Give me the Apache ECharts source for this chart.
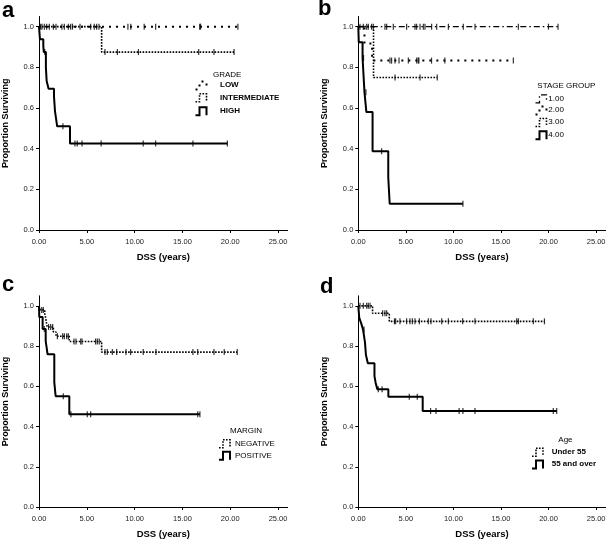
<!DOCTYPE html>
<html><head><meta charset="utf-8">
<script src="https://cdn.jsdelivr.net/npm/echarts@6/dist/echarts.min.js"></script>
<style>html,body{margin:0;padding:0;background:#fff}#c{width:609px;height:540px}</style>
</head><body><div id="c"></div>
<script>
// ---------- data (years, proportion surviving) ----------
var xTicks = [0, 5, 10, 15, 20, 25];
var yTicks = [0, 0.2, 0.4, 0.6, 0.8, 1.0];

// Panel a: GRADE
var aLowTimes = [], aLowSurv = [], aLowEnd = 20.8;
var aLowCensor = [0.17, 0.56, 1.08, 1.5, 2.4, 3.07, 3.5, 5.4, 6.03, 9.3, 9.6, 11.0, 12.2, 16.8, 16.9, 20.8];
var aIntTimes = [6.55], aIntSurv = [0.875], aIntEnd = 20.4;
var aIntCensor = [0.31, 0.8, 1.78, 2.65, 3.31, 4.29, 5.78, 6.27, 6.9, 8.2, 10.4, 16.7, 18.3, 20.4];
var aHighTimes = [0.1, 0.45, 0.5, 0.72, 0.8, 1.0, 1.57, 1.67, 1.78, 1.9, 3.24];
var aHighSurv = [0.938, 0.906, 0.875, 0.80, 0.733, 0.695, 0.656, 0.585, 0.549, 0.51, 0.426];
var aHighEnd = 19.7;
var aHighCensor = [0.6, 2.5, 3.76, 4.0, 4.5, 6.5, 10.9, 12.2, 16.1, 19.7];

// Panel b: STAGE GROUP
var b1Times = [], b1Surv = [], b1End = 21.0;
var b1Censor = [0.18, 0.53, 0.88, 1.05, 1.4, 1.58, 2.8, 2.98, 3.68, 5.08, 5.96, 6.13, 6.49, 6.84, 7.01, 7.71, 8.24, 9.47, 11.04, 12.27, 16.83, 19.99, 21.0];
var b2Times = [0.65, 1.45], b2Surv = [0.917, 0.833], b2End = 16.3;
var b2Censor = [3.33, 3.5, 3.86, 4.28, 5.26, 6.14, 6.3, 6.37, 7.7, 9.1, 16.3];
var b3Times = [1.6], b3Surv = [0.75], b3End = 8.3;
var b3Censor = [3.86, 6.49, 8.3];
var b4Times = [0.05, 0.45, 0.65, 0.85, 1.5, 3.15, 3.3];
var b4Surv = [0.923, 0.846, 0.677, 0.58, 0.387, 0.258, 0.129];
var b4End = 11.0;
var b4Censor = [0.55, 0.8, 2.45, 11.0];

// Panel c: MARGIN
var cNegTimes = [0.15, 0.6, 0.7, 0.78, 0.85, 1.5, 1.78, 3.17, 6.55];
var cNegSurv = [0.98, 0.96, 0.94, 0.915, 0.895, 0.87, 0.849, 0.823, 0.77];
var cNegEnd = 20.73;
var cNegCensor = [0.28, 0.45, 1.0, 1.22, 1.43, 1.92, 2.47, 2.65, 2.9, 3.07, 3.66, 3.87, 4.36, 4.5, 5.92, 6.1, 6.3, 6.9, 7.14, 7.67, 8.12, 9.1, 9.58, 10.9, 12.23, 16.1, 16.6, 18.3, 19.37, 20.73];
var cPosTimes = [0.03, 0.38, 0.7, 0.9, 1.6, 1.74, 3.17];
var cPosSurv = [0.944, 0.885, 0.825, 0.759, 0.62, 0.551, 0.461];
var cPosEnd = 16.83;
var cPosCensor = [0.55, 2.54, 3.34, 5.05, 5.4, 16.6, 16.83];

// Panel d: Age
var dYoungTimes = [1.5, 3.26], dYoungSurv = [0.963, 0.923], dYoungEnd = 19.57;
var dYoungCensor = [0.18, 0.53, 0.88, 1.05, 1.23, 2.56, 2.8, 2.98, 3.8, 3.93, 4.38, 5.08, 5.43, 5.68, 5.96, 6.42, 7.36, 7.64, 8.77, 9.47, 10.97, 12.27, 16.65, 16.83, 18.4, 19.57];
var dOldTimes = [0.1, 0.3, 0.5, 0.7, 0.8, 1.0, 1.7, 1.82, 2.0, 3.16, 6.77];
var dOldSurv = [0.94, 0.914, 0.882, 0.82, 0.757, 0.715, 0.651, 0.618, 0.586, 0.548, 0.477];
var dOldEnd = 20.86;
var dOldCensor = [0.6, 2.1, 2.5, 5.36, 6.2, 7.6, 8.17, 10.6, 11.0, 12.27, 20.5, 20.86];

// ---------- styles ----------
var FONT = 'Liberation Sans';
var SOLID = {color: '#000', width: 2, type: 'solid'};
var DENSE = {color: '#000', width: 1.6, type: [1.6, 1.4]};
var SPARSE = {color: '#000', width: 2, type: [2, 5]};
var DASHDOT = {color: '#000', width: 1.3, type: [6, 3, 1.5, 3]};

function kmLine(times, surv, end) {
  var pts = [[0, 1]];
  for (var i = 0; i < times.length; i++) pts.push([times[i], surv[i]]);
  pts.push([end, surv.length ? surv[surv.length - 1] : 1]);
  return pts;
}
function survAt(times, surv, t) {
  var s = 1;
  for (var i = 0; i < times.length; i++) if (times[i] <= t) s = surv[i];
  return s;
}
var series = [];
function addCurve(idx, times, surv, end, censor, style) {
  series.push({type: 'line', step: 'end', xAxisIndex: idx, yAxisIndex: idx,
    data: kmLine(times, surv, end), showSymbol: false, symbol: 'none',
    lineStyle: style, animation: false, silent: true});
  series.push({type: 'scatter', xAxisIndex: idx, yAxisIndex: idx,
    data: censor.map(function (t) { return [t, survAt(times, surv, t)]; }),
    symbol: 'rect', symbolSize: [1.2, 6], itemStyle: {color: '#000'}, animation: false, silent: true, z: 3});
}
addCurve(0, aLowTimes, aLowSurv, aLowEnd, aLowCensor, SPARSE);
addCurve(0, aIntTimes, aIntSurv, aIntEnd, aIntCensor, DENSE);
addCurve(0, aHighTimes, aHighSurv, aHighEnd, aHighCensor, SOLID);
addCurve(1, b1Times, b1Surv, b1End, b1Censor, DASHDOT);
addCurve(1, b2Times, b2Surv, b2End, b2Censor, SPARSE);
addCurve(1, b3Times, b3Surv, b3End, b3Censor, DENSE);
addCurve(1, b4Times, b4Surv, b4End, b4Censor, SOLID);
addCurve(2, cNegTimes, cNegSurv, cNegEnd, cNegCensor, DENSE);
addCurve(2, cPosTimes, cPosSurv, cPosEnd, cPosCensor, SOLID);
addCurve(3, dYoungTimes, dYoungSurv, dYoungEnd, dYoungCensor, DENSE);
addCurve(3, dOldTimes, dOldSurv, dOldEnd, dOldCensor, SOLID);

// ---------- layout ----------
var grids = [
  {left: 39, top: 16.5, width: 248.6, height: 213.5},
  {left: 358.3, top: 16.5, width: 247.3, height: 213.5},
  {left: 39, top: 295.8, width: 248.6, height: 213.5},
  {left: 358.3, top: 295.8, width: 247.3, height: 213.5}
];
var xAxes = [], yAxes = [];
grids.forEach(function (g, i) {
  xAxes.push({type: 'value', gridIndex: i, min: 0, max: 26,
    name: 'DSS (years)', nameLocation: 'middle', nameGap: 22,
    nameTextStyle: {fontFamily: FONT, fontWeight: 'bold', fontSize: 9.5, color: '#000'},
    axisLine: {show: true, lineStyle: {color: '#000', width: 1}},
    axisTick: {show: true, length: 3, customValues: xTicks, lineStyle: {color: '#000'}},
    axisLabel: {customValues: xTicks, margin: 8, fontFamily: FONT, fontSize: 7.5, color: '#222',
      formatter: function (v) { return v.toFixed(2); }},
    splitLine: {show: false}});
  yAxes.push({type: 'value', gridIndex: i, min: 0, max: 1.05,
    name: 'Proportion Surviving', nameLocation: 'middle', nameGap: 29, nameRotate: 90,
    nameTextStyle: {fontFamily: FONT, fontWeight: 'bold', fontSize: 9, color: '#000'},
    axisLine: {show: true, lineStyle: {color: '#000', width: 1}},
    axisTick: {show: true, length: 3, customValues: yTicks, lineStyle: {color: '#000'}},
    axisLabel: {customValues: yTicks, margin: 5, fontFamily: FONT, fontSize: 7.5, color: '#222',
      formatter: function (v) { return v.toFixed(1); }},
    splitLine: {show: false}});
});

// ---------- panel letters & legends ----------
var graphic = [];
function letter(t, x, y) {
  graphic.push({type: 'text', left: x, top: y, style: {text: t, font: 'bold 22px "' + FONT + '"', fill: '#000'}});
}
letter('a', 2, 0); letter('b', 318, -2); letter('c', 2, 274); letter('d', 320, 276);

function txt(t, x, y, bold) {
  graphic.push({type: 'text', x: x, y: y, style: {text: t, font: (bold ? 'bold ' : '') + '8px "' + FONT + '"',
    fill: '#000', textVerticalAlign: 'middle', textAlign: 'left'}});
}
function icon(x, yc, st) {
  var top = yc - 3.5, bot = yc + 4.5;
  graphic.push({type: 'polyline', shape: {points: [[x, bot], [x + 4, bot], [x + 4, top], [x + 11, top], [x + 11, bot]]},
    style: {stroke: '#000', fill: null, lineWidth: st.width, lineDash: st.type === 'solid' ? null : st.type}});
}
function legend(titleText, tx, ty, ix, lx, rows, bold) {
  txt(titleText, tx, ty, false);
  rows.forEach(function (r) { icon(ix, r[1], r[2]); txt(r[0], lx, r[1], bold); });
}
legend('GRADE', 213, 75, 195.5, 220, [['LOW', 85, SPARSE], ['INTERMEDIATE', 97.3, DENSE], ['HIGH', 110.7, SOLID]], true);
legend('STAGE GROUP', 537.3, 86, 535.5, 548.3, [['1.00', 98.3, DASHDOT], ['2.00', 110, SPARSE], ['3.00', 122, DENSE], ['4.00', 134.7, SOLID]], false);
legend('MARGIN', 230, 430.7, 219, 235, [['NEGATIVE', 443.3, DENSE], ['POSITIVE', 455.3, SOLID]], false);
legend('Age', 558.3, 439.3, 532, 551.7, [['Under 55', 451.7, DENSE], ['55 and over', 464, SOLID]], true);

var chart = echarts.init(document.getElementById('c'), null, {renderer: 'canvas'});
chart.setOption({
  animation: false,
  backgroundColor: '#fff',
  grid: grids,
  xAxis: xAxes,
  yAxis: yAxes,
  series: series,
  graphic: graphic
});
</script>
</body></html>
